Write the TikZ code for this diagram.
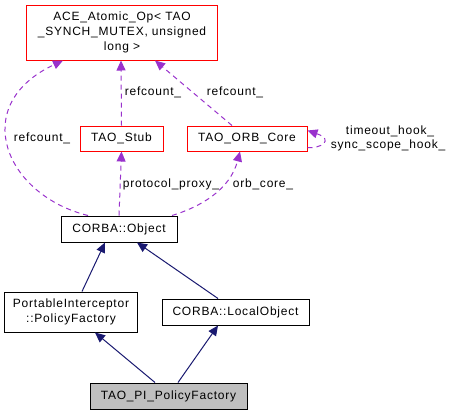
\documentclass[tikz,border=0pt]{standalone}
\usepackage{fontspec}
\setmainfont{Liberation Sans}[LetterSpace=6.5]
\usetikzlibrary{arrows.meta,calc}
\definecolor{redb}{RGB}{255,0,0}
\definecolor{purp}{RGB}{153,50,204}
\definecolor{navyc}{RGB}{25,25,112}
\definecolor{grayf}{RGB}{191,191,191}
\tikzset{
  box/.style={draw=black, line width=1bp, inner sep=0pt, align=center, font=\fontsize{12bp}{15bp}\selectfont},
  redbox/.style={box, draw=redb},
  uses/.style={draw=purp, line width=1bp, dash pattern=on 5bp off 4bp, -{Triangle[length=10bp,width=9bp,fill=purp]}},
  inh/.style={draw=navyc, line width=1bp, -{Triangle[length=10bp,width=9bp,fill=navyc]}},
  lbl/.style={inner sep=0pt, font=\fontsize{12bp}{15bp}\selectfont, align=center},
}
\begin{document}
\begin{tikzpicture}[x=1bp,y=-1bp]
\useasboundingbox (0,0) rectangle (450,415);
\node[redbox, minimum width=190bp, minimum height=55bp] (ace) at (122,32.5) {ACE\_Atomic\_Op< TAO\\\_SYNCH\_MUTEX, unsigned\\long >};
\node[redbox, minimum width=83bp, minimum height=25bp] (stub) at (121.5,138.5) {TAO\_Stub};
\node[redbox, minimum width=120bp, minimum height=25bp] (orb) at (247,138.5) {TAO\_ORB\_Core};
\node[box, minimum width=116bp, minimum height=26bp] (obj) at (119,229) {CORBA::Object};
\node[box, minimum width=132bp, minimum height=40bp] (pif) at (71,312) {PortableInterceptor\\::PolicyFactory};
\node[box, minimum width=147bp, minimum height=26bp] (loc) at (235.5,312) {CORBA::LocalObject};
\node[box, fill=grayf, minimum width=157bp, minimum height=26bp] (tpi) at (168.5,396) {TAO\_PI\_PolicyFactory};

% uses edges
\draw[uses] ($(obj.north)+(-31,0)$) .. controls (5,195) and (-32,105) .. ($(ace.south)+(-59,0)$);
\node[lbl] (l1) at (42,138) {refcount\_};
\draw[uses] (stub.north) -- ($(ace.south)+(-1,0)$);
\node[lbl] (l2) at (153,92) {refcount\_};
\draw[uses] ($(orb.north)+(-15,0)$) -- ($(ace.south)+(33,0)$);
\node[lbl] (l3) at (235,92) {refcount\_};
\draw[uses] ($(orb.south east)+(0,-4)$) .. controls (320,149) and (335,140) .. ($(orb.north east)+(0,5)$);
\node[lbl] (l4) at (390,131) {timeout\_hook\_};
\node[lbl] (l5) at (388,145) {sync\_scope\_hook\_};
\draw[uses] (obj.north) -- (stub.south);
\node[lbl] (l6) at (171,184) {protocol\_proxy\_};
\draw[uses] ($(obj.north)+(53,0)$) .. controls (200,207) and (230,190) .. ($(orb.south)+(-7,0)$);
\node[lbl] (l7) at (263,184) {orb\_core\_};

% inheritance
\draw[inh] ($(pif.north)+(11,0)$) -- ($(obj.south)+(-14,0)$);
\draw[inh] ($(loc.north)+(-17.5,0)$) -- ($(obj.south)+(18,0)$);
\draw[inh] ($(tpi.north)+(-13.5,0)$) -- ($(pif.south)+(24,0)$);
\draw[inh] ($(tpi.north)+(9.5,0)$) -- ($(loc.south)+(-17.5,0)$);
\end{tikzpicture}
\end{document}
